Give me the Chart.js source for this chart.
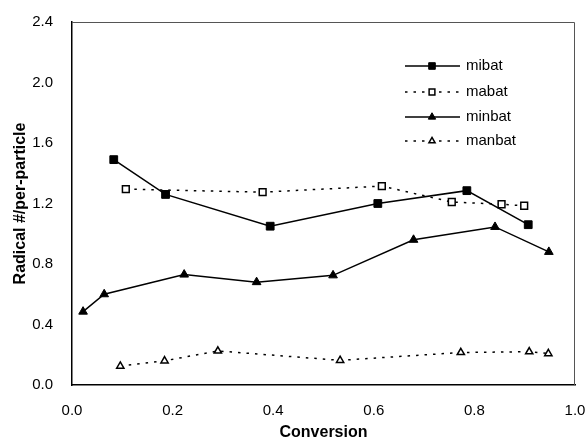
<!DOCTYPE html>
<html>
<head>
<meta charset="utf-8">
<script src="https://cdn.jsdelivr.net/npm/chart.js@4/dist/chart.umd.min.js"></script>
<style>
  html, body { margin: 0; padding: 0; background: #fff; }
  #wrap { width: 588px; height: 447px; }
</style>
</head>
<body>
<div id="wrap"><canvas id="radicals" width="588" height="447"></canvas></div>
<script>
// conversion (x) and radical number per particle (y) for each recipe
const mibatX = [0.083, 0.186, 0.394, 0.608, 0.785, 0.907];
const mibatY = [1.49, 1.26, 1.05, 1.20, 1.285, 1.06];
const mabatX = [0.107, 0.379, 0.616, 0.755, 0.854, 0.899];
const mabatY = [1.295, 1.275, 1.315, 1.21, 1.195, 1.185];
const minbatX = [0.022, 0.064, 0.223, 0.367, 0.519, 0.679, 0.841, 0.948];
const minbatY = [0.485, 0.60, 0.73, 0.68, 0.725, 0.96, 1.045, 0.88];
const manbatX = [0.096, 0.184, 0.290, 0.533, 0.773, 0.909, 0.947];
const manbatY = [0.125, 0.16, 0.225, 0.163, 0.215, 0.22, 0.208];

const xTicks = [0, 0.2, 0.4, 0.6, 0.8, 1.0];
const yTicks = [0, 0.4, 0.8, 1.2, 1.6, 2.0, 2.4];

const FONT = "'Liberation Sans', Arial, sans-serif";

function points(xs, ys) {
  return xs.map((x, i) => ({ x: x, y: ys[i] }));
}

function series(label, xs, ys, shape, filled, dotted, radius) {
  return {
    label: label,
    data: points(xs, ys),
    showLine: true,
    borderColor: '#000',
    borderWidth: 1.5,
    borderDash: dotted ? [2.5, 6] : [],
    pointStyle: shape,
    pointRadius: radius,
    pointBorderWidth: filled ? 1 : 1.5,
    pointBorderColor: '#000',
    pointBackgroundColor: filled ? '#000' : '#fff',
    backgroundColor: filled ? '#000' : '#fff',
  };
}

// outer frame around the plot area
const frame = {
  id: 'frame',
  afterDatasetsDraw(chart) {
    const a = chart.chartArea;
    const ctx = chart.ctx;
    ctx.save();
    ctx.strokeStyle = '#555';
    ctx.lineWidth = 1;
    ctx.beginPath();
    ctx.moveTo(a.left, a.top + 0.5);
    ctx.lineTo(a.right - 0.5, a.top + 0.5);
    ctx.lineTo(a.right - 0.5, a.bottom);
    ctx.stroke();
    ctx.restore();
  }
};

// legend with line samples and markers, drawn inside the plot
const lineLegend = {
  id: 'lineLegend',
  afterDraw(chart) {
    const ctx = chart.ctx;
    const x0 = 405, x1 = 460, xm = 432, xt = 466;
    const rows = [66, 92, 117, 141];
    ctx.save();
    chart.data.datasets.forEach((ds, i) => {
      const y = rows[i];
      ctx.strokeStyle = '#000';
      ctx.lineWidth = ds.borderWidth;
      ctx.setLineDash(ds.borderDash);
      ctx.beginPath();
      ctx.moveTo(x0, y);
      ctx.lineTo(x1, y);
      ctx.stroke();
      ctx.setLineDash([]);
      ctx.fillStyle = ds.pointBackgroundColor;
      ctx.lineWidth = ds.pointBorderWidth;
      Chart.helpers.drawPoint(ctx, {
        pointStyle: ds.pointStyle,
        radius: ds.pointRadius * 0.85,
        borderWidth: ds.pointBorderWidth
      }, xm, y);
      ctx.fillStyle = '#000';
      ctx.font = '15px ' + FONT;
      ctx.textBaseline = 'middle';
      ctx.textAlign = 'left';
      ctx.fillText(ds.label, xt, y);
    });
    ctx.restore();
  }
};

new Chart(document.getElementById('radicals').getContext('2d'), {
  type: 'scatter',
  data: {
    datasets: [
      series('mibat', mibatX, mibatY, 'rect', true, false, 5.5),
      series('mabat', mabatX, mabatY, 'rect', false, true, 4.8),
      series('minbat', minbatX, minbatY, 'triangle', true, false, 5),
      series('manbat', manbatX, manbatY, 'triangle', false, true, 4.2),
    ]
  },
  options: {
    responsive: false,
    animation: false,
    layout: { padding: { top: 22, right: 0, bottom: 0, left: 0 } },
    plugins: {
      legend: { display: false },
      tooltip: { enabled: false }
    },
    scales: {
      x: {
        type: 'linear',
        min: 0,
        max: 1,
        afterBuildTicks: (scale) => { scale.ticks = xTicks.map(v => ({ value: v })); },
        afterFit: (scale) => {
          scale.height = 62;
          scale.paddingRight = 13;
        },
        grid: { display: false },
        border: { display: true, color: '#000', width: 1.5 },
        ticks: {
          color: '#000',
          padding: 9,
          font: { family: FONT, size: 15 },
          callback: (v) => Number(v).toFixed(1)
        },
        title: {
          display: true,
          text: 'Conversion',
          color: '#000',
          font: { family: FONT, size: 16, weight: 'bold' },
          padding: { top: 0, bottom: 5 }
        }
      },
      y: {
        type: 'linear',
        min: 0,
        max: 2.4,
        afterBuildTicks: (scale) => { scale.ticks = yTicks.map(v => ({ value: v })); },
        afterFit: (scale) => { scale.width = 72; },
        grid: { display: false },
        border: { display: true, color: '#000', width: 1.5 },
        ticks: {
          color: '#000',
          padding: 11,
          font: { family: FONT, size: 15 },
          callback: (v) => Number(v).toFixed(1)
        },
        title: {
          display: true,
          text: 'Radical #/per-particle',
          color: '#000',
          font: { family: FONT, size: 16, weight: 'bold' },
          padding: { top: 11, bottom: 0 }
        }
      }
    }
  },
  plugins: [frame, lineLegend]
});
</script>
</body>
</html>
